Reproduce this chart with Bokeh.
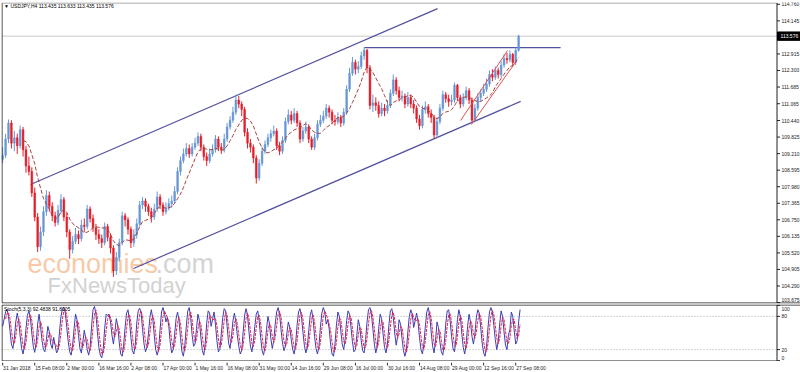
import numpy as np
from bokeh.plotting import figure
from bokeh.layouts import column
from bokeh.models import Range1d, ColumnDataSource
from bokeh.core.properties import value
from bokeh.embed import file_html
from bokeh.resources import INLINE

# ---------------- data ----------------
first_open = 109.00
closes = [
    109.15, 109.75, 110.35, 109.60, 109.80, 109.50, 110.10, 109.35, 108.75, 108.55,
    107.75, 106.85, 105.75, 106.30, 107.05, 107.65, 107.25, 106.90, 106.65, 107.10,
    107.50, 106.85, 106.30, 105.65, 105.95, 106.20, 106.05, 106.55, 106.50, 107.15,
    106.80, 106.45, 106.20, 106.05, 105.90, 106.50, 106.10, 105.70, 104.85, 105.35,
    105.90, 106.90, 106.75, 106.40, 105.90, 106.20, 106.60, 107.30, 107.45, 107.25,
    107.05, 106.85, 107.15, 107.60, 107.30, 107.05, 107.20, 107.35, 107.45, 107.80,
    108.55, 108.95, 109.20, 109.40, 109.20, 109.45, 109.60, 109.85, 109.45, 109.10,
    108.95, 109.20, 109.35, 109.75, 109.45, 109.35, 109.75, 110.20, 110.45, 110.75,
    111.20, 111.05, 110.85, 110.00, 109.60, 109.45, 109.05, 108.30, 108.85, 109.30,
    109.55, 109.80, 109.95, 110.05, 109.50, 109.30, 109.70, 110.40, 110.65, 110.45,
    110.70, 110.35, 109.75, 110.05, 110.20, 109.75, 109.45, 109.80, 110.30, 110.45,
    110.60, 110.90, 110.75, 110.45, 110.40, 110.55, 110.35, 110.75, 111.60, 112.20,
    112.60, 112.35, 112.45, 112.85, 113.05, 112.40, 111.00, 111.10, 111.00, 110.70,
    110.90, 110.80, 111.00, 111.45, 111.95, 111.55, 111.30, 111.35, 111.05, 111.30,
    111.05, 110.90, 110.50, 110.25, 110.85, 110.95, 110.70, 110.55, 109.90, 110.40,
    110.90, 111.40, 111.25, 111.15, 111.20, 111.75, 111.30, 111.05, 111.30, 111.55,
    111.20, 110.45, 110.90, 111.30, 111.45, 111.60, 111.80, 112.15, 112.05, 112.30,
    112.15, 112.50, 112.75, 112.70, 112.90, 112.60, 113.05, 113.576,
]
highs = [
    109.45, 109.95, 110.48, 110.45, 110.05, 109.95, 110.25, 110.20, 109.50, 109.10,
    108.70, 107.95, 107.00, 106.50, 107.25, 107.85, 107.80, 107.40, 107.05, 107.30,
    107.70, 107.60, 107.00, 106.40, 106.15, 106.45, 106.35, 106.75, 106.80, 107.30,
    107.25, 106.95, 106.60, 106.40, 106.20, 106.65, 106.60, 106.25, 105.80, 105.55,
    106.05, 107.05, 107.00, 106.85, 106.50, 106.40, 106.80, 107.45, 107.60, 107.55,
    107.35, 107.20, 107.35, 107.80, 107.70, 107.40, 107.40, 107.55, 107.65, 108.00,
    108.70, 109.10, 109.40, 109.60, 109.55, 109.60, 109.80, 110.00, 109.95, 109.55,
    109.25, 109.40, 109.55, 109.90, 109.85, 109.60, 109.95, 110.35, 110.60, 110.95,
    111.40, 111.35, 111.15, 110.95, 110.15, 109.75, 109.55, 109.15, 109.00, 109.45,
    109.70, 109.95, 110.10, 110.25, 110.15, 109.65, 109.85, 110.55, 110.85, 110.80,
    110.90, 110.80, 110.45, 110.20, 110.40, 110.30, 109.85, 109.95, 110.45, 110.65,
    110.80, 111.05, 111.00, 110.85, 110.65, 110.75, 110.65, 110.90, 111.75, 112.40,
    112.80, 112.70, 112.65, 113.00, 113.17, 113.10, 112.50, 111.40, 111.30, 111.15,
    111.10, 111.05, 111.20, 111.60, 112.15, 112.05, 111.70, 111.55, 111.45, 111.50,
    111.40, 111.20, 111.00, 110.65, 111.00, 111.15, 111.05, 110.85, 110.65, 110.55,
    111.05, 111.55, 111.50, 111.40, 111.40, 111.85, 111.80, 111.40, 111.45, 111.70,
    111.65, 111.30, 111.05, 111.45, 111.60, 111.80, 112.00, 112.30, 112.35, 112.45,
    112.40, 112.65, 112.90, 112.95, 113.05, 112.95, 113.15, 113.633,
]
lows = [
    108.85, 109.05, 109.60, 109.40, 109.30, 109.20, 109.40, 109.10, 108.50, 108.40,
    107.60, 106.70, 105.55, 105.60, 106.15, 106.90, 107.05, 106.70, 106.50, 106.55,
    106.95, 106.70, 106.10, 105.30, 105.50, 105.85, 105.85, 105.95, 106.30, 106.40,
    106.65, 106.30, 106.00, 105.85, 105.70, 105.80, 105.95, 105.50, 104.63, 104.70,
    105.20, 105.80, 106.50, 106.20, 105.70, 105.75, 106.05, 106.50, 107.15, 107.05,
    106.90, 106.65, 106.75, 107.05, 107.15, 106.90, 106.95, 107.10, 107.20, 107.35,
    107.70, 108.40, 108.85, 109.10, 109.05, 109.10, 109.35, 109.50, 109.30, 108.95,
    108.75, 108.85, 109.10, 109.25, 109.30, 109.20, 109.25, 109.65, 110.10, 110.35,
    110.65, 110.90, 110.60, 109.85, 109.40, 109.25, 108.85, 108.10, 108.20, 108.75,
    109.20, 109.45, 109.65, 109.85, 109.35, 109.15, 109.20, 109.60, 110.30, 110.30,
    110.35, 110.20, 109.60, 109.65, 109.95, 109.60, 109.35, 109.35, 109.70, 110.20,
    110.35, 110.50, 110.55, 110.30, 110.25, 110.30, 110.20, 110.25, 110.65, 111.50,
    112.10, 112.15, 112.20, 112.35, 112.70, 112.20, 110.85, 110.75, 110.80, 110.55,
    110.60, 110.60, 110.70, 110.90, 111.35, 111.40, 111.15, 111.15, 110.90, 110.95,
    110.90, 110.70, 110.35, 110.10, 110.15, 110.70, 110.55, 110.35, 109.77, 109.80,
    110.30, 110.80, 111.10, 110.95, 111.00, 111.10, 111.15, 110.90, 110.95, 111.20,
    111.05, 110.40, 110.40, 110.80, 111.15, 111.35, 111.50, 111.70, 111.90, 111.95,
    112.00, 112.05, 112.40, 112.55, 112.60, 112.45, 112.50, 113.00,
]
stoch_k = [
    62, 75, 88, 93, 80, 55, 30, 22, 40, 70, 86, 72,
    45, 22, 12, 28, 58, 82, 90, 78, 50, 26, 15, 32,
    66, 84, 62, 36, 20, 16, 38, 62, 52, 30, 22, 42,
    28, 14, 20, 52, 80, 94, 97, 86, 60, 34, 16, 10,
    28, 58, 84, 74, 46, 22, 14, 34, 55, 40, 20, 10,
    24, 62, 92, 98, 84, 52, 24, 10, 5, 22, 58, 84,
    82, 84, 70, 46, 30, 52, 76, 62, 32, 12, 8, 28,
    60, 86, 92, 72, 42, 18, 12, 30, 68, 90, 95, 86,
    56, 30, 16, 24, 48, 78, 92, 76, 46, 20, 10, 20,
    56, 88, 96, 86, 70, 78, 62, 32, 14, 20, 48, 76,
    88, 72, 42, 16, 8, 28, 62, 90, 96, 78, 46, 26,
    30, 58, 84, 72, 42, 18, 10, 32, 68, 90, 86, 62,
    74, 88, 66, 36, 16, 20, 48, 78, 94, 90, 62, 32,
    22, 44, 72, 86, 70, 46, 26, 12, 18, 52, 82, 94,
    82, 52, 26, 16, 34, 62, 84, 90, 72, 42, 18, 10,
    26, 56, 80, 68, 40, 22, 36, 66, 88, 96, 84, 56,
    32, 18, 26, 50, 70, 60, 38, 20, 12, 30, 64, 88,
    94, 80, 52, 28, 14, 24, 54, 82, 92, 74, 44, 22,
    12, 26, 60, 86, 96, 88, 66, 74, 58, 30, 12, 8,
    30, 64, 88, 80, 54, 30, 20, 40, 72, 90, 84, 60,
    34, 16, 20, 46, 74, 62, 36, 18, 14, 38, 70, 92,
    96, 84, 58, 30, 14, 26, 58, 84, 76, 48, 24, 14,
    30, 64, 90, 94, 78, 50, 28, 44, 74, 66, 40, 18,
    8, 20, 52, 80, 92, 84, 60, 72, 86, 70, 42, 20,
    12, 30, 62, 88, 96, 82, 52, 26, 14, 36, 70, 60,
    34, 16, 10, 32, 66, 90, 92, 72, 44, 22, 16, 40,
    74, 92, 80, 50, 24, 12, 30, 62, 84, 70, 44, 30,
    48, 78, 92, 86, 60, 32, 14, 8, 26, 60, 88, 96,
    88, 64, 38, 20, 34, 66, 90, 80, 52, 28, 20, 46,
    56, 88, 80, 54, 30, 36, 70, 92.48,
]
price_ticks = [114.760, 114.145, 112.915, 112.300, 111.685, 111.065, 110.440, 109.825,
               109.210, 108.595, 107.980, 107.365, 106.750, 106.135, 105.520, 104.905,
               104.290, 103.675]
price_tick_labels = ["114.760", "114.145", "112.915", "112.300", "111.685", "111.065",
                     "110.440", "109.825", "109.210", "108.595", "107.980", "107.365",
                     "106.750", "106.135", "105.520", "104.905", "104.290", "103.675"]
stoch_ticks = [100, 80, 20, 0]
stoch_tick_labels = ["100", "80", "20", "0"]
date_labels = ["31 Jan 2018", "15 Feb 08:00", "2 Mar 00:00", "16 Mar 16:00", "2 Apr 08:00",
               "17 Apr 00:00", "1 May 16:00", "16 May 08:00", "31 May 00:00", "14 Jun 16:00",
               "29 Jun 08:00", "16 Jul 00:00", "30 Jul 16:00", "14 Aug 08:00", "29 Aug 00:00",
               "12 Sep 16:00", "27 Sep 08:00"]
date_label_bars = [0, 11, 22, 33, 44, 55, 66, 77, 88, 99, 110, 121, 132, 143, 154, 165, 176]
last_price = 113.576
last_price_label = "113.576"
title_text = "\u25bc USDJPY,H4  113.435 113.633 113.435 113.576"
stoch_title = "Stoch(5,3,3) 92.4838 91.8105"
# trend lines (bar index, price)
upper_channel = ([9.55, 149.2], [108.06, 114.60])
lower_channel = ([44.9, 177.7], [104.94, 111.15])
resistance = ([124.1, 191.4], [113.15, 113.15])
red_upper = ([157.1, 173.2], [110.44, 113.04])
red_lower = ([160.8, 175.9], [110.29, 112.60])

# ---------------- layout constants ----------------
FONT = "Liberation Sans"
PX = 2.915                 # pixels per bar
X0 = -0.4
FW = 799                   # frame width (px 1 .. 800)
XR = Range1d(X0, X0 + FW / PX)
AX = X0 + 775.5 / PX       # price axis line (px ~776.5)
RIGHT = X0 + FW / PX
LEFTB = X0 + 0.5 / PX
def bx(px):                # pixel offset right of the axis -> bar units
    return AX + px / PX

# ---------------- derived ----------------
n = len(closes)
idx = np.arange(n)
c = np.array(closes)
o = np.array([first_open] + closes[:-1])
h = np.array(highs)
l = np.array(lows)
bull = c >= o
BULL, BEAR = "#6797d4", "#e41e2a"
colors = [BULL if b else BEAR for b in bull]
src = ColumnDataSource(dict(x=idx, top=np.maximum(o, c), bottom=np.minimum(o, c),
                            h=h, l=l, color=colors))
ma = np.convolve(c, np.ones(8) / 8, mode="valid")
ma_x = idx[7:]
k = np.array(stoch_k, dtype=float)
kx = np.arange(len(k)) * 0.5
d = np.convolve(k, np.ones(3) / 3, mode="valid")
dx_ = kx[2:]

AXC = "#202020"

def base(fig):
    fig.xgrid.visible = False
    fig.ygrid.visible = False
    fig.outline_line_color = None
    fig.background_fill_color = "white"
    fig.border_fill_color = "white"

# ---------------- price panel ----------------
PY0, PY1 = 103.639, 114.827
PPY = (PY1 - PY0) / 301.0
p = figure(frame_width=FW, frame_height=301, x_range=XR, y_range=Range1d(PY0, PY1),
           output_backend="svg", toolbar_location=None, x_axis_location=None,
           y_axis_location=None, min_border_left=1, min_border_right=0,
           min_border_top=2, min_border_bottom=1)
base(p)

# watermark
p.text(x=[8.5], y=[105.125], text=["economies"], text_font=value(FONT), text_font_size="27px",
       text_color="#f7c096", text_alpha=0.85, text_baseline="alphabetic")
p.text(x=[52.4], y=[105.125], text=[".com"], text_font=value(FONT), text_font_size="27px",
       text_color="#d4d4d4", text_baseline="alphabetic")
p.text(x=[15.4], y=[104.31], text=["FxNewsToday"], text_font=value(FONT), text_font_size="22px",
       text_color="#d2d2d2", text_baseline="alphabetic")

# current price line
p.line([X0, AX], [last_price, last_price], line_color="#c8c8c8", line_width=1)

p.line(upper_channel[0], upper_channel[1], line_color="#5252a0", line_width=1.2)
p.line(lower_channel[0], lower_channel[1], line_color="#5252a0", line_width=1.2)
p.line(resistance[0], resistance[1], line_color="#5252a0", line_width=1.2)

p.segment(x0="x", y0="h", x1="x", y1="l", line_color="color", line_width=1, source=src)
p.vbar(x="x", width=0.6, top="top", bottom="bottom", fill_color="color", line_color="color",
       line_width=0.5, source=src)
p.line(ma_x, ma, line_color="#a84040", line_width=1, line_dash="4 2")

p.line(red_upper[0], red_upper[1], line_color="#e05050", line_width=1)
p.line(red_lower[0], red_lower[1], line_color="#e05050", line_width=1)

p.text(x=[0.5], y=[114.715], text=[title_text], text_font=value(FONT), text_font_size="5px",
       text_color="black", text_baseline="middle")

# frame and price axis (drawn)
top_y = PY1 - 0.5 * PPY
bot_y = PY0 + 0.5 * PPY
p.line([LEFTB, LEFTB], [bot_y, top_y], line_color=AXC, line_width=1)
p.line([LEFTB, AX], [top_y, top_y], line_color="#909090", line_width=1)
p.line([LEFTB, RIGHT], [bot_y, bot_y], line_color=AXC, line_width=1)
p.line([AX, AX], [bot_y, top_y], line_color=AXC, line_width=1)
p.segment(x0=[AX] * len(price_ticks), y0=price_ticks, x1=[bx(3)] * len(price_ticks),
          y1=price_ticks, line_color=AXC, line_width=1)
label_y = [t if t > 104 else t + 2.5 * PPY for t in price_ticks]
p.text(x=[bx(4.5)] * len(price_ticks), y=label_y, text=price_tick_labels,
       text_font=value(FONT), text_font_size="5px", text_color="#222222",
       text_baseline="middle", text_align="left")
# current price marker
p.quad(left=[bx(0.5)], right=[RIGHT], top=[last_price + 4.2 * PPY],
       bottom=[last_price - 4.2 * PPY], fill_color="black", line_color="black")
p.text(x=[bx(3.5)], y=[last_price], text=[last_price_label], text_font=value(FONT),
       text_font_size="5px", text_color="white", text_baseline="middle", text_align="left")

# ---------------- stochastic panel ----------------
SY0, SY1 = -1.5, 101.5
SPY = (SY1 - SY0) / 57.0
s = figure(frame_width=FW, frame_height=57, x_range=XR, y_range=Range1d(SY0, SY1),
           output_backend="svg", toolbar_location=None, x_axis_location=None,
           y_axis_location=None, min_border_left=1, min_border_right=0,
           min_border_top=0, min_border_bottom=0)
base(s)
for lvl in (80, 20):
    s.line([X0, AX], [lvl, lvl], line_color="#a8a8a8", line_width=1, line_dash="1 2")
s.line(kx, k, line_color="#3c3cb4", line_width=1)
s.line(dx_, d, line_color="#e8204a", line_width=1, line_dash="3 1")
s.text(x=[0.5], y=[94.0], text=[stoch_title], text_font=value(FONT), text_font_size="5px",
       text_color="black", text_baseline="middle")
s_top = SY1 - 0.5 * SPY
s_bot = SY0 + 0.5 * SPY
s.line([LEFTB, RIGHT], [s_top, s_top], line_color=AXC, line_width=1)
s.line([LEFTB, LEFTB], [s_bot, s_top], line_color=AXC, line_width=1)
s.line([LEFTB, AX], [s_bot, s_bot], line_color=AXC, line_width=1)
s.line([AX, AX], [s_bot, s_top], line_color=AXC, line_width=1)
s.segment(x0=[AX] * len(stoch_ticks), y0=stoch_ticks, x1=[bx(3)] * len(stoch_ticks),
          y1=stoch_ticks, line_color=AXC, line_width=1)
stoch_label_y = [93.0, 80, 20, 5.0]
s.text(x=[bx(4.5)] * len(stoch_ticks), y=stoch_label_y, text=stoch_tick_labels,
       text_font=value(FONT), text_font_size="5px", text_color="#222222",
       text_baseline="middle", text_align="left")

# ---------------- date label strip ----------------
t = figure(frame_width=FW, frame_height=11, x_range=XR, y_range=Range1d(0, 11),
           output_backend="svg", toolbar_location=None, x_axis_location=None,
           y_axis_location=None, min_border_left=1, min_border_right=0,
           min_border_top=0, min_border_bottom=0)
base(t)
t.segment(x0=date_label_bars, y0=[11] * len(date_label_bars), x1=date_label_bars,
          y1=[8] * len(date_label_bars), line_color="#303030", line_width=1)
t.text(x=[b + 0.15 for b in date_label_bars], y=[5.5] * len(date_label_bars), text=date_labels,
       text_font=value(FONT), text_font_size="5px", text_color="#222222",
       text_baseline="middle", text_align="left")

layout = column(p, s, t, spacing=0)
open("out.html", "w").write(file_html(layout, INLINE))
